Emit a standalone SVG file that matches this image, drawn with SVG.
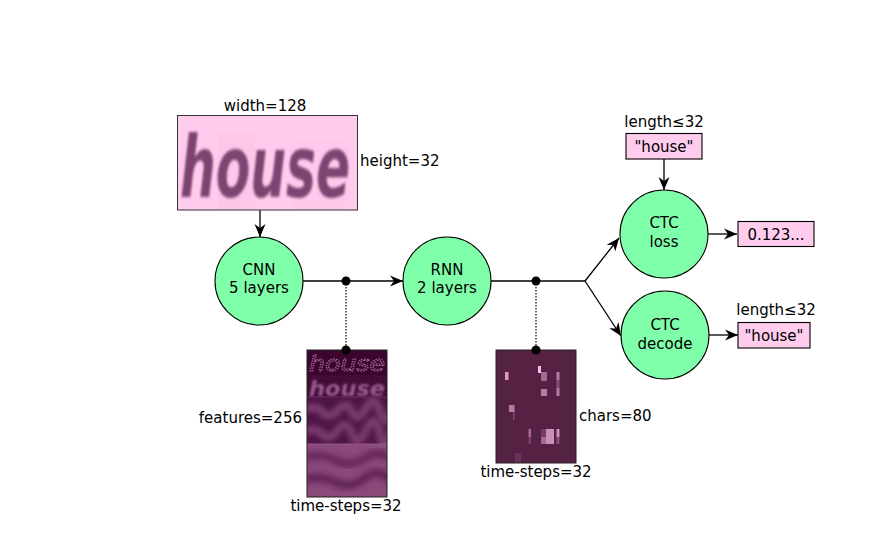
<svg xmlns="http://www.w3.org/2000/svg" width="891" height="540" viewBox="0 0 891 540">
<style>
text{font-family:"DejaVu Sans","Liberation Sans",sans-serif;font-size:15px;fill:#000}
.c{text-anchor:middle}
.e{text-anchor:end}
.node{fill:#80ffaa;stroke:#000;stroke-width:1.1}
.box{fill:#ffccee;stroke:#000;stroke-width:1.1}
.ln{fill:none;stroke:#000;stroke-width:1.3}
.dot{fill:#000}
.dash{fill:none;stroke:#000;stroke-width:1.2;stroke-dasharray:1.5,1.5}
.hw{font-family:"DejaVu Sans",sans-serif;font-style:italic}
</style>
<defs>
<marker id="arr" markerUnits="userSpaceOnUse" markerWidth="16" markerHeight="14" viewBox="-15 -7 16 14" refX="0" refY="0" orient="auto">
<path d="M0,0 L-13,-5.5 L-9,0 L-13,5.5 Z" fill="#000"/>
</marker>
<filter id="b1" x="-10%" y="-10%" width="120%" height="120%"><feGaussianBlur stdDeviation="0.8"/></filter>
<filter id="b2" x="-10%" y="-50%" width="120%" height="200%"><feGaussianBlur stdDeviation="2.5"/></filter>
<filter id="b3" x="-10%" y="-50%" width="120%" height="200%"><feGaussianBlur stdDeviation="3"/></filter>
<clipPath id="fc"><rect x="307" y="350" width="80" height="147"/></clipPath>
<clipPath id="ic"><rect x="178" y="116" width="179" height="94"/></clipPath>
</defs>

<g id="connectors">
<line class="ln" x1="260" y1="210" x2="260" y2="237" marker-end="url(#arr)"/>
<line class="ln" x1="303" y1="281" x2="403" y2="281" marker-end="url(#arr)"/>
<polyline class="ln" points="491,281 585,281"/>
<line class="ln" x1="585" y1="281" x2="619" y2="238" marker-end="url(#arr)"/>
<line class="ln" x1="585" y1="281" x2="621" y2="336" marker-end="url(#arr)"/>
<line class="ln" x1="664" y1="159" x2="664" y2="190" marker-end="url(#arr)"/>
<line class="ln" x1="708" y1="234" x2="737" y2="234" marker-end="url(#arr)"/>
<line class="ln" x1="709" y1="335" x2="738" y2="335" marker-end="url(#arr)"/>
<line class="dash" x1="346" y1="281" x2="346" y2="350"/>
<line class="dash" x1="536" y1="281" x2="536" y2="350"/>
<circle class="dot" cx="346" cy="281" r="4.5"/>
<circle class="dot" cx="536" cy="281" r="4.5"/>
</g>

<g id="input-image">
<rect x="177.5" y="115.5" width="180" height="94.5" fill="#ffccee" stroke="#333" stroke-width="1"/>
<rect x="218" y="133" width="37" height="76" fill="#fcc8ea"/>
<rect x="290" y="140" width="60" height="69" fill="#fdcaec"/>
<g clip-path="url(#ic)">
<text class="hw" transform="translate(180,197) scale(1,1.7)" x="0" y="0" textLength="170" lengthAdjust="spacingAndGlyphs" style="font-size:50px;font-weight:bold;fill:#7a4470" filter="url(#b1)">house</text>
</g>
<text class="c" x="265" y="111">width=128</text>
<text x="360" y="166">height=32</text>
</g>

<g id="cnn">
<circle class="node" cx="259" cy="281" r="44"/>
<text class="c" x="259" y="275">CNN</text>
<text class="c" x="259" y="293">5 layers</text>
</g>

<g id="rnn">
<circle class="node" cx="447" cy="281" r="44"/>
<text class="c" x="447" y="275">RNN</text>
<text class="c" x="447" y="293">2 layers</text>
</g>

<g id="features">
<g clip-path="url(#fc)">
<rect x="307" y="350" width="80" height="147" fill="#4a1040"/>
<rect x="307" y="350" width="80" height="25" fill="#3a0630"/>
<text class="hw" x="309" y="371" textLength="76" lengthAdjust="spacingAndGlyphs" style="font-size:22px;fill:none;stroke:#b070a0;stroke-width:1;stroke-dasharray:1.5,1">house</text>
<rect x="307" y="375" width="80" height="22" fill="#420c38"/>
<text class="hw" x="309" y="396" textLength="76" lengthAdjust="spacingAndGlyphs" style="font-size:22px;font-weight:bold;fill:#9a5a8c" filter="url(#b1)">house</text>
<rect x="307" y="397" width="80" height="47" fill="#4e1646"/>
<path d="M305,410 Q315,404 322,412 T338,410 T352,412 T366,408 T380,412 T392,410" stroke="#7a3a6c" stroke-width="8" fill="none" filter="url(#b2)"/>
<path d="M305,432 Q315,426 322,434 T338,430 T352,434 T366,430 T380,434 T392,430" stroke="#7a3a6c" stroke-width="8" fill="none" filter="url(#b2)"/>
<rect x="307" y="444" width="80" height="53" fill="#8a4a7a"/>
<path d="M305,458 Q320,452 335,460 T365,458 T392,460" stroke="#5a1c50" stroke-width="6" fill="none" filter="url(#b3)"/>
<path d="M305,480 Q320,474 335,482 T365,478 T392,482" stroke="#5a1c50" stroke-width="7" fill="none" filter="url(#b3)"/>
<line x1="307" y1="397" x2="387" y2="397" stroke="#6a3060" stroke-width="1"/>
<line x1="307" y1="444" x2="387" y2="444" stroke="#9a5a8a" stroke-width="1"/>
</g>
<rect x="307" y="350" width="80" height="147" fill="none" stroke="#222" stroke-width="1"/>
<circle class="dot" cx="346" cy="350" r="4.5"/>
<text class="e" x="302" y="423">features=256</text>
<text class="c" x="346" y="511">time-steps=32</text>
</g>

<g id="chars">
<rect x="496" y="350" width="80" height="113" fill="#552244" stroke="#222" stroke-width="1"/>
<rect x="538" y="366" width="3" height="7" fill="#f0c0e4"/>
<rect x="505" y="372" width="3.5" height="8" fill="#d89ac8"/>
<rect x="541" y="372" width="6" height="9" fill="#a8688f"/>
<rect x="556.5" y="372" width="3" height="8" fill="#b57aa4"/>
<rect x="556.5" y="380" width="3" height="8" fill="#8a4a78"/>
<rect x="556.5" y="388" width="3" height="8" fill="#b57aa4"/>
<rect x="541" y="389" width="6" height="7" fill="#b57aa4"/>
<rect x="509" y="405" width="5.5" height="7" fill="#b57aa4"/>
<rect x="513" y="412" width="1.5" height="8" fill="#8a4a78"/>
<rect x="528.5" y="429" width="2.5" height="8" fill="#a8688f"/>
<rect x="528.5" y="437" width="2.5" height="7" fill="#7a3a6a"/>
<rect x="541" y="429" width="5" height="8" fill="#7a3a6a"/>
<rect x="546" y="429" width="8" height="15" fill="#c890b8"/>
<rect x="541" y="437" width="5" height="7" fill="#a8688f"/>
<rect x="556.5" y="429" width="3" height="8" fill="#c890b8"/>
<rect x="556.5" y="437" width="3" height="7" fill="#8a4a78"/>
<rect x="515" y="453" width="6" height="9" fill="#6a3060"/>
<circle class="dot" cx="536" cy="350" r="4.5"/>
<text x="579" y="421">chars=80</text>
<text class="c" x="536" y="477">time-steps=32</text>
</g>

<g id="ctc-loss">
<circle class="node" cx="664" cy="234" r="44"/>
<text class="c" x="664" y="228">CTC</text>
<text class="c" x="664" y="247">loss</text>
</g>

<g id="ctc-decode">
<circle class="node" cx="665" cy="335" r="44"/>
<text class="c" x="665" y="330">CTC</text>
<text class="c" x="665" y="349">decode</text>
</g>

<g id="gt-text">
<text class="c" x="664" y="127">length≤32</text>
<rect class="box" x="626" y="133.5" width="76" height="25.5"/>
<text class="c" x="664" y="152">"house"</text>
</g>

<g id="loss-value">
<rect class="box" x="738" y="221.5" width="76" height="25"/>
<text class="c" x="776" y="239.5">0.123...</text>
</g>

<g id="decoded-text">
<text class="c" x="776" y="315">length≤32</text>
<rect class="box" x="738" y="322.5" width="72" height="25.5"/>
<text class="c" x="774" y="341">"house"</text>
</g>
</svg>
